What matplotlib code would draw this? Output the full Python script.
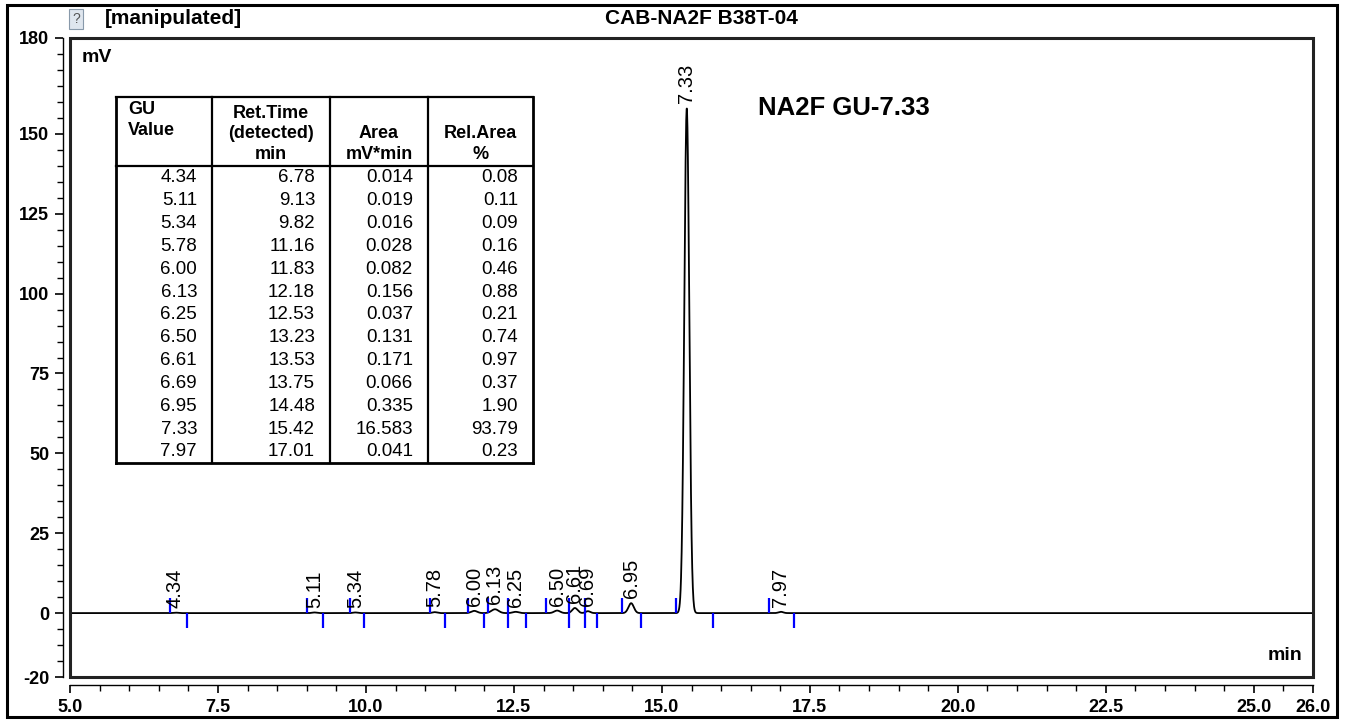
import numpy as np
import matplotlib.pyplot as plt
from matplotlib.patches import Rectangle
from matplotlib.lines import Line2D
from matplotlib.ticker import MultipleLocator, FixedLocator

plt.rcParams['font.family'] = ['Liberation Sans', 'DejaVu Sans']
plt.rcParams['axes.unicode_minus'] = False

# Datos del cromatograma
gu_valores = ['4.34', '5.11', '5.34', '5.78', '6.00', '6.13', '6.25', '6.50', '6.61', '6.69', '6.95', '7.33', '7.97']
tiempos_ret = [6.78, 9.13, 9.82, 11.16, 11.83, 12.18, 12.53, 13.23, 13.53, 13.75, 14.48, 15.42, 17.01]
alturas = [0.15, 0.2, 0.2, 0.3, 0.7, 1.2, 0.4, 0.8, 1.6, 0.6, 3.1, 158.0, 0.4]
anchos = [0.04, 0.04, 0.04, 0.04, 0.05, 0.06, 0.05, 0.05, 0.045, 0.04, 0.045, 0.042, 0.04]
areas = ['0.014', '0.019', '0.016', '0.028', '0.082', '0.156', '0.037', '0.131', '0.171', '0.066', '0.335', '16.583', '0.041']
areas_rel = ['0.08', '0.11', '0.09', '0.16', '0.46', '0.88', '0.21', '0.74', '0.97', '0.37', '1.90', '93.79', '0.23']

# Marcas de inicio y fin de cada pico (min)
inicios = [6.69, 9.01, 9.73, 11.08, 11.73, 12.07, 12.40, 13.04, 13.43, 13.70, 14.32, 15.23, 16.81]
finales = [6.975, 9.28, 9.96, 11.33, 11.99, 12.40, 12.70, 13.43, 13.70, 13.91, 14.64, 15.87, 17.24]

W, H = 1349, 721
fig = plt.figure(figsize=(W / 100, H / 100), dpi=100)


def fx(x):
    return x / W


def fy(y):
    return 1 - y / H


ax = fig.add_axes([fx(70), fy(677), fx(1313) - fx(70), fy(38) - fy(677)])
ax.set_xlim(5.0, 26.0)
ax.set_ylim(-20, 180)

# Señal como suma de picos gaussianos
t = np.linspace(5.0, 26.0, 6000)
senal = np.zeros_like(t)
for rt, h, s in zip(tiempos_ret, alturas, anchos):
    senal += h * np.exp(-0.5 * ((t - rt) / s) ** 2)
ax.plot(t, senal, color='black', lw=1.3, zorder=3)

ax.vlines(inicios, 0, 4.7, colors='blue', lw=1.6, zorder=4)
ax.vlines(finales, -4.7, 0, colors='blue', lw=1.6, zorder=4)

for gu, rt, h in zip(gu_valores, tiempos_ret, alturas):
    ax.text(rt, h + 1.5, gu, rotation=90, ha='center', va='bottom', fontsize=14.5, zorder=5)

# Caja del area de graficado
for s in ax.spines.values():
    s.set_visible(False)
ax.spines['left'].set_visible(True)
ax.spines['bottom'].set_visible(True)
ax.spines['left'].set_position(('outward', 5))
ax.spines['bottom'].set_position(('outward', 6))
ax.spines['left'].set_linewidth(1.0)
ax.spines['bottom'].set_linewidth(1.0)
ax.add_patch(Rectangle((0, 0), 1, 1, transform=ax.transAxes, fill=False,
                       edgecolor='#222222', lw=2.2, clip_on=False, zorder=6))

ax.yaxis.set_major_locator(FixedLocator([-20, 0, 25, 50, 75, 100, 125, 150, 180]))
ax.yaxis.set_minor_locator(MultipleLocator(5))
ax.xaxis.set_major_locator(FixedLocator([5.0, 7.5, 10.0, 12.5, 15.0, 17.5, 20.0, 22.5, 25.0, 26.0]))
ax.xaxis.set_minor_locator(MultipleLocator(0.5))
ax.set_xticklabels(['5.0', '7.5', '10.0', '12.5', '15.0', '17.5', '20.0', '22.5', '25.0', '26.0'])
ax.tick_params(axis='both', which='major', length=6, width=1.2, labelsize=13, pad=4)
ax.tick_params(axis='both', which='minor', length=4, width=1.0)
for lbl in ax.get_xticklabels() + ax.get_yticklabels():
    lbl.set_fontweight('bold')

fig.text(fx(82), fy(57), 'mV', fontsize=14, fontweight='bold', va='center')
fig.text(fx(1302), fy(655), 'min', fontsize=14, fontweight='bold', va='center', ha='right')
fig.text(fx(758), fy(108), 'NA2F GU-7.33', fontsize=18.5, fontweight='bold', va='center', ha='left')

# Titulos superiores
fig.text(fx(701), fy(18), 'CAB-NA2F B38T-04', fontsize=15, fontweight='bold', va='center', ha='center')
fig.text(fx(105), fy(18), '[manipulated]', fontsize=15, fontweight='bold', va='center', ha='left')
fig.text(fx(76), fy(19), '?', fontsize=10, color='#555555', va='center', ha='center',
         bbox=dict(boxstyle='square,pad=0.2', fc='#dfe6ee', ec='#8899aa', lw=0.8))

# Marco exterior
fig.add_artist(Rectangle((fx(7), fy(717)), fx(1337) - fx(7), fy(5) - fy(717),
                         transform=fig.transFigure, fill=False, edgecolor='black', lw=2.2))

# Tabla de resultados
cols_x = [116, 212, 330, 428, 533]
y_top, y_head, y_bot = 97, 166, 463


def linea(x0, y0, x1, y1, lw=1.6):
    fig.add_artist(Line2D([fx(x0), fx(x1)], [fy(y0), fy(y1)], transform=fig.transFigure,
                          color='black', lw=lw))


linea(cols_x[0], y_top, cols_x[-1], y_top)
linea(cols_x[0], y_head, cols_x[-1], y_head)
linea(cols_x[0], y_bot, cols_x[-1], y_bot, lw=2.0)
for x in cols_x:
    linea(x, y_top, x, y_bot, lw=2.0 if x in (cols_x[0], cols_x[-1]) else 1.6)

fig.text(fx(128), fy(101), 'GU\nValue', fontsize=13, fontweight='bold', va='top', ha='left', linespacing=1.28)
cabeceras = ['Ret.Time\n(detected)\nmin', 'Area\nmV*min', 'Rel.Area\n%']
for i, cab in enumerate(cabeceras):
    cx = (cols_x[i + 1] + cols_x[i + 2]) / 2
    fig.text(fx(cx), fy(163), cab, fontsize=13, fontweight='bold', va='bottom', ha='center',
             linespacing=1.28)

columnas = [gu_valores, ['%.2f' % v for v in tiempos_ret], areas, areas_rel]
for j, col in enumerate(columnas):
    xr = cols_x[j + 1] - 15
    for i, val in enumerate(col):
        fig.text(fx(xr), fy(178 + i * 22.83), val, fontsize=13.5, va='center', ha='right')

fig.savefig('out.png', dpi=100)
